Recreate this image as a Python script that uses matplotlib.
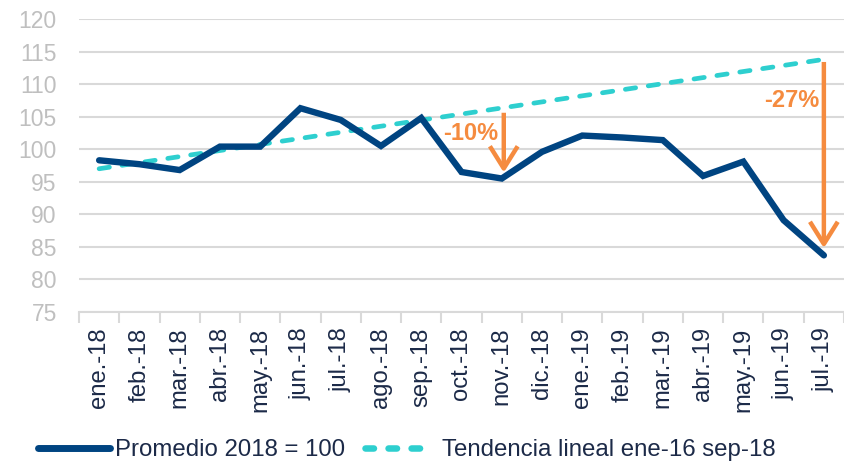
import matplotlib
matplotlib.use("Agg")
import matplotlib.pyplot as plt
from matplotlib.ticker import FixedLocator

plt.rcParams['font.family'] = ['Liberation Sans', 'DejaVu Sans']

categories = ["ene.-18", "feb.-18", "mar.-18", "abr.-18", "may.-18", "jun.-18",
              "jul.-18", "ago.-18", "sep.-18", "oct.-18", "nov.-18", "dic.-18",
              "ene.-19", "feb.-19", "mar.-19", "abr.-19", "may.-19", "jun.-19",
              "jul.-19"]
promedio = [98.3, 97.7, 96.8, 100.4, 100.4, 106.3, 104.5, 100.5, 104.8, 96.5,
            95.5, 99.6, 102.1, 101.8, 101.4, 95.9, 98.1, 89.1, 83.7]
trend_start = 97.0   # ene.-18
trend_end = 113.8    # jul.-19
yticks = [75, 80, 85, 90, 95, 100, 105, 110, 115, 120]

# annotations: (x index, arrow top, arrow tip, label, label x, label y)
arrows = [
    (10.05, 105.6, 96.4, "-10%", 9.23, 102.4),
    (18.0, 113.4, 84.8, "-27%", 17.2, 107.5),
]

navy = "#004481"
teal = "#2ECFCF"
orange = "#F58B3F"
grid_c = "#D9D9D9"
text_c = "#1c2a48"

fig = plt.figure(figsize=(8.44, 4.62), dpi=100)
ax = fig.add_axes([79 / 844, 1 - 312 / 462, 1 - 79 / 844, (312 - 19) / 462])

x = list(range(len(categories)))
l1, = ax.plot(x, promedio, color=navy, lw=4.6, solid_capstyle='round',
              solid_joinstyle='miter', zorder=3, label="Promedio 2018 = 100")
l2, = ax.plot([x[0], x[-1]], [trend_start, trend_end], color=teal, lw=3.4,
              dashes=(2.2, 2.7), dash_capstyle='round', zorder=2,
              label="Tendencia lineal ene-16 sep-18")

for xi, ytop, ytip, lab, tx, ty in arrows:
    ax.annotate("", xy=(xi, ytip), xytext=(xi, ytop),
                arrowprops=dict(arrowstyle="->,head_length=0.8,head_width=0.5",
                                color=orange, lw=3.2, mutation_scale=20,
                                shrinkA=0, shrinkB=0, capstyle='butt'),
                zorder=4)
    ax.text(tx, ty, lab, color=orange, fontsize=17, fontweight='bold',
            ha='center', va='center', zorder=5)

ax.set_xlim(-0.5, len(categories) - 0.5)
ax.set_ylim(75, 120)
ax.set_yticks(yticks)
ax.yaxis.grid(True, color=grid_c, lw=1.5)
ax.set_axisbelow(True)
ax.tick_params(axis='y', length=0, labelsize=16.5, labelcolor='#BFBFBF', pad=16)

ax.set_xticks(x)
ax.set_xticklabels(categories, rotation=90, fontsize=17.2, color=text_c)
ax.xaxis.set_minor_locator(FixedLocator([i - 0.5 for i in range(len(categories) + 1)]))
ax.tick_params(axis='x', which='major', length=0, pad=11)
ax.tick_params(axis='x', which='minor', length=8, width=1.5, color=grid_c)

for s in ['top', 'right', 'left']:
    ax.spines[s].set_visible(False)
ax.spines['bottom'].set_color(grid_c)
ax.spines['bottom'].set_linewidth(1.5)

leg = fig.legend(handles=[l1, l2], loc='center left',
                 bbox_to_anchor=(38 / 844, 1 - 450 / 462),
                 ncol=2, frameon=False, fontsize=17.3, handlelength=3.0,
                 handletextpad=0.2, columnspacing=0.85, labelcolor=text_c,
                 borderpad=0, borderaxespad=0)
leg_lines = leg.get_lines()
for h in leg_lines:
    h.set_linewidth(5)
# dashed legend handle: three dashes, ending short of the text
dh = leg_lines[1]
xd = list(dh.get_xdata())
dh.set_xdata([xd[0] + (v - xd[0]) * 0.8 for v in xd])
dh.set_linewidth(4.7)
dh.set_dashes((1.3, 2.23))

fig.savefig("out.png", dpi=100)
